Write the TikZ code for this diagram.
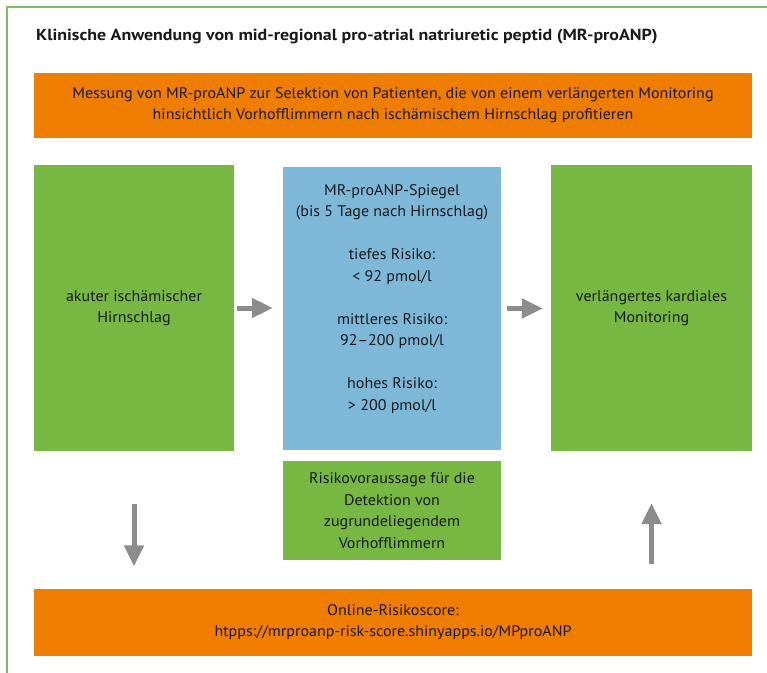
\documentclass[tikz,border=0pt]{standalone}
\usepackage{fontspec}
\setmainfont{PT Sans}
\newfontfamily\titlefont[FakeStretch=1.12]{PT Sans}
\newfontfamily\bodyfont[FakeStretch=1.04]{PT Sans}
\usetikzlibrary{arrows.meta}
\definecolor{frameg}{HTML}{7DBE5A}
\definecolor{boxg}{HTML}{77B843}
\definecolor{boxo}{HTML}{EF7D00}
\definecolor{boxb}{HTML}{7DB8D8}
\definecolor{arrg}{HTML}{8C8C8C}
\definecolor{txt}{HTML}{1A1A1A}
\begin{document}
\begin{tikzpicture}[x=1pt,y=-1pt,
  box/.style={draw=none,inner sep=0pt,align=center,text=txt,font=\bodyfont\fontsize{15.4}{21.5}\selectfont},
  txtnode/.style={inner sep=0pt,align=center,text=txt,font=\bodyfont\fontsize{15.4}{21.5}\selectfont},
  arr/.style={draw=arrg,line width=5pt,-{Triangle[length=21pt,width=19pt]}}]
\useasboundingbox (0,0) rectangle (767,672);
\fill[white] (0,0) rectangle (767,672);
\draw[frameg,line width=2pt] (7,680) -- (7,7) -- (780,7);
\node[anchor=base west,inner sep=0pt,text=txt,font=\titlefont\fontsize{16}{20}\selectfont\bfseries] (title) at (36,40) {Klinische Anwendung von mid-regional pro-atrial natriuretic peptid (MR-proANP)};
\node[box,fill=boxo,minimum width=718pt,minimum height=65pt] (top) at (393,105) {Messung von MR-proANP zur Selektion von Patienten, die von einem verlängerten Monitoring\\hinsichtlich Vorhofflimmern nach ischämischem Hirnschlag profitieren};
\node[box,fill=boxg,minimum width=200pt,minimum height=286pt] (left) at (134,308) {akuter ischämischer\\Hirnschlag};
\node[box,fill=boxb,minimum width=218pt,minimum height=283pt] (blue) at (392,308.5) {};
\node[txtnode] (bluetxt) at (392,299) {MR-proANP-Spiegel\\(bis 5 Tage nach Hirnschlag)\\[21.5pt]tiefes Risiko:\\< 92 pmol/l\\[21.5pt]mittleres Risiko:\\92–200 pmol/l\\[21.5pt]hohes Risiko:\\> 200 pmol/l};
\node[box,fill=boxg,minimum width=218pt,minimum height=99pt] (small) at (392,510.5) {Risikovoraussage für die\\Detektion von\\zugrundeliegendem\\Vorhofflimmern};
\node[box,fill=boxg,minimum width=201pt,minimum height=286pt] (right) at (651.5,308) {verlängertes kardiales\\Monitoring};
\node[box,fill=boxo,minimum width=718pt,minimum height=67pt] (bottom) at (393,622) {Online-Risikoscore:\\htpps://mrproanp-risk-score.shinyapps.io/MPproANP};
\draw[arr,shorten <=3pt,shorten >=10pt] (left.east) -- (left.east -| blue.west);
\draw[arr,shorten <=6pt,shorten >=8pt] (blue.east) -- (blue.east -| right.west);
\draw[arr,shorten <=53pt,shorten >=22pt] (left.south) -- (left.south |- bottom.north);
\draw[arr,shorten <=24pt,shorten >=52pt] (right.south |- bottom.north) -- (right.south);
\end{tikzpicture}
\end{document}
